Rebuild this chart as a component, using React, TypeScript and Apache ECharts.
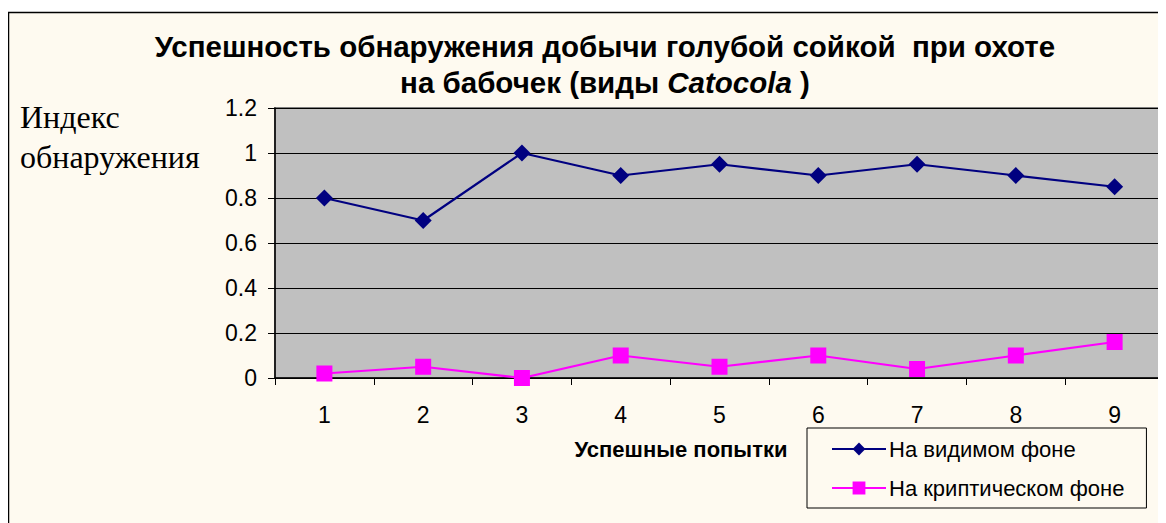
import React, { useEffect, useRef } from "react";
import * as echarts from "echarts";

const categories = ["1", "2", "3", "4", "5", "6", "7", "8", "9"];
const visibleBg = [0.8, 0.7, 1.0, 0.9, 0.95, 0.9, 0.95, 0.9, 0.85];
const crypticBg = [0.02, 0.05, 0.0, 0.1, 0.05, 0.1, 0.04, 0.1, 0.16];
const seriesNames = ["На видимом фоне", "На криптическом фоне"];

const SANS = "Arial, 'Liberation Sans', sans-serif";

export default function App() {
  const ref = useRef<HTMLDivElement>(null);
  useEffect(() => {
    const chart = echarts.init(ref.current!, null, { renderer: "svg" });
    chart.setOption({
      animation: false,
      backgroundColor: "transparent",
      textStyle: { fontFamily: SANS },
      graphic: [
        {
          type: "rect",
          z: -10,
          shape: { x: 0.5, y: 4.5, width: 1300, height: 700 },
          style: { fill: "#FEFAF0", stroke: "#000", lineWidth: 1.5 },
        },
        {
          type: "text",
          left: 12,
          top: 89,
          style: {
            text: "Индекс\nобнаружения",
            font: "32px 'Liberation Serif', 'Times New Roman', serif",
            lineHeight: 40,
            fill: "#000",
          },
        },
        {
          type: "text",
          x: 673,
          y: 441,
          style: {
            text: "Успешные попытки",
            font: "bold 22px " + SANS,
            fill: "#000",
            align: "center",
            verticalAlign: "middle",
          },
        },
      ],
      title: {
        text: "Успешность обнаружения добычи голубой сойкой  при охоте\n{n|на бабочек (виды }{i|Catocola}{n| )}",
        left: 592,
        textAlign: "center",
        top: 15,
        textStyle: {
          fontSize: 29.5,
          fontWeight: "bold",
          color: "#000",
          lineHeight: 36,
          fontFamily: SANS,
          rich: {
            n: { fontSize: 29.5, fontWeight: "bold", color: "#000", lineHeight: 36, fontFamily: SANS },
            i: { fontSize: 29.5, fontWeight: "bold", fontStyle: "italic", color: "#000", lineHeight: 36, fontFamily: SANS },
          },
        },
      },
      legend: {
        orient: "vertical",
        left: 799,
        top: 420,
        padding: [10, 22, 9, 24],
        itemGap: 17,
        itemWidth: 54,
        itemHeight: 16,
        borderColor: "#000",
        borderWidth: 1,
        backgroundColor: "#FEFAF0",
        textStyle: { fontSize: 22, color: "#000", padding: [0, 0, 0, -2] },
        data: seriesNames,
      },
      grid: {
        left: 267,
        top: 100,
        right: 2,
        height: 270,
        show: true,
        backgroundColor: "#C0C0C0",
        borderColor: "#808080",
        borderWidth: 2,
      },
      xAxis: {
        type: "category",
        data: categories,
        boundaryGap: true,
        axisLine: { lineStyle: { color: "#000", width: 1.5 } },
        axisTick: { show: true, length: 7, inside: false, lineStyle: { color: "#000" } },
        axisLabel: { fontSize: 23, color: "#000", margin: 25 },
      },
      yAxis: {
        type: "value",
        min: 0,
        max: 1.2,
        interval: 0.2,
        axisLine: { show: true, lineStyle: { color: "#000", width: 1.5 } },
        axisTick: { show: true, length: 7, lineStyle: { color: "#000" } },
        axisLabel: {
          fontSize: 23,
          color: "#000",
          margin: 18,
          formatter: (v: number) => String(Math.round(v * 10) / 10),
        },
        splitLine: { lineStyle: { color: "#000", width: 1 } },
      },
      series: [
        {
          name: seriesNames[0],
          type: "line",
          data: visibleBg,
          symbol: "diamond",
          symbolSize: 17,
          color: "#000080",
          lineStyle: { color: "#000080", width: 2.2 },
          itemStyle: { color: "#000080" },
        },
        {
          name: seriesNames[1],
          type: "line",
          data: crypticBg,
          symbol: "rect",
          symbolSize: 16,
          color: "#FF00FF",
          lineStyle: { color: "#FF00FF", width: 2.2 },
          itemStyle: { color: "#FF00FF" },
        },
      ],
    });
    return () => chart.dispose();
  }, []);
  return <div ref={ref} style={{ width: 1158, height: 515 }} />;
}
